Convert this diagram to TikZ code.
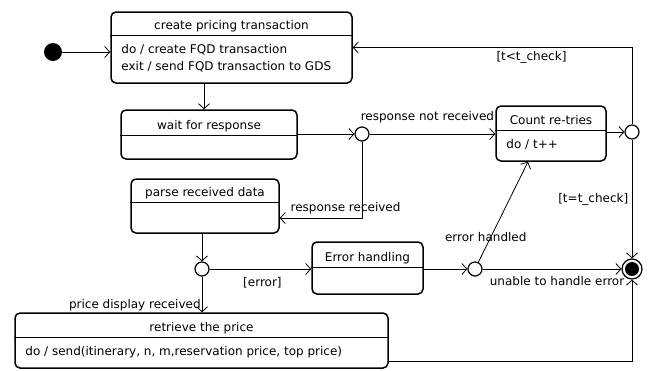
\documentclass[tikz,border=0pt]{standalone}
\usepackage{fontspec}
\setmainfont{DejaVu Sans}
\usetikzlibrary{positioning,arrows.meta}

\begin{document}
\begin{tikzpicture}[x=1pt,y=-1pt,
  every node/.style={font=\fontsize{12}{17}\selectfont},
  state/.style={draw,line width=1.5pt,rounded corners=5pt,inner sep=0pt},
  hdr/.style={anchor=north,inner sep=0pt,text depth=6pt,text height=#1},
  hdr/.default=18pt,
  body/.style={anchor=north west,align=left,inner xsep=11pt,inner ysep=8.5pt},
  junction/.style={circle,draw,line width=1.2pt,fill=white,minimum size=14pt,inner sep=0pt},
  trans/.style={line width=0.8pt,-{Straight Barb[length=5pt,width=11pt]}}]
\useasboundingbox (0,0) rectangle (650,370);

% states
\node[state,minimum width=241pt,minimum height=71pt] (create) at (231.5,47.5) {};
\node[hdr] (create-h) at (create.north) {create pricing transaction};
\draw[line width=1pt] (create.west |- create-h.south) -- (create.east |- create-h.south);
\node[body] (create-b) at (create.west |- create-h.south) {do / create FQD transaction\\exit / send FQD transaction to GDS};

\node[state,minimum width=176pt,minimum height=49pt] (wait) at (209,134.5) {};
\node[hdr=20pt] (wait-h) at (wait.north) {wait for response};
\draw[line width=1pt] (wait.west |- wait-h.south) -- (wait.east |- wait-h.south);

\node[state,minimum width=148pt,minimum height=54pt] (parse) at (205,206) {};
\node[hdr] (parse-h) at (parse.north) {parse received data};
\draw[line width=1pt] (parse.west |- parse-h.south) -- (parse.east |- parse-h.south);

\node[state,minimum width=110pt,minimum height=55pt] (count) at (551,133.5) {};
\node[hdr=19pt] (count-h) at (count.north) {Count re-tries};
\draw[line width=1pt] (count.west |- count-h.south) -- (count.east |- count-h.south);
\node[body] (count-b) at (count.west |- count-h.south) {do / t++};

\node[state,minimum width=111pt,minimum height=52pt] (error) at (367.5,268) {};
\node[hdr=20pt] (error-h) at (error.north) {Error handling};
\draw[line width=1pt] (error.west |- error-h.south) -- (error.east |- error-h.south);

\node[state,minimum width=373pt,minimum height=55pt] (retrieve) at (201.5,340.5) {};
\node[hdr=19pt] (retrieve-h) at (retrieve.north) {retrieve the price};
\draw[line width=1pt] (retrieve.west |- retrieve-h.south) -- (retrieve.east |- retrieve-h.south);
\node[body] (retrieve-b) at (retrieve.west |- retrieve-h.south) {do / send(itinerary, n, m,reservation price, top price)};

% pseudostates
\node[circle,fill=black,minimum size=18pt,inner sep=0pt] (init) at (53,52) {};
\node[junction] (j1) at (362,134) {};
\node[junction] (j2) at (632,132) {};
\node[junction] (j3) at (202,269) {};
\node[junction] (j4) at (475,269) {};
\node[circle,draw,line width=1.2pt,minimum size=20pt,inner sep=0pt] (final) at (632,269) {};
\fill (final.center) circle (7pt);

% transitions
\draw[trans] (init) -- (create.west |- init);
\draw[trans] ([xshift=-27.5pt]create.south) -- ([xshift=-27.5pt]create.south |- wait.north);
\draw[trans] (wait.east |- j1) -- (j1);
\draw[trans] (j1) -- node[above=7pt,xshift=-5pt] {response not received} (count.west |- j1);
\draw[trans] (count.east |- j2) -- (j2);
\draw[trans] (j2) |- node[pos=0.68,below] {[t<t\_check]} (create.east);
\draw[trans] (j2) -- node[left] {[t=t\_check]} (final);
\draw[trans] (j1) |- node[pos=0.6,above] {response received} ([yshift=-12pt]parse.east);
\draw[trans] (parse.south -| j3) -- (j3);
\draw[trans] (j3) -- node[below=5pt,xshift=2pt] {[error]} (error.west |- j3);
\draw[trans] (j3) -- node[pos=1,above left,inner sep=1pt] {price display received} (retrieve.north -| j3);
\draw[trans] (error.east |- j4) -- (j4);
\draw[trans] (j4) -- node[pos=0.25,xshift=-5pt] {error handled} ([xshift=-23pt]count.south);
\draw[trans] (j4) -- node[below=4pt,xshift=5pt] {unable to handle error} (final);
\draw[trans] ([yshift=-20.5pt]retrieve.east) -| (final);
\end{tikzpicture}
\end{document}
